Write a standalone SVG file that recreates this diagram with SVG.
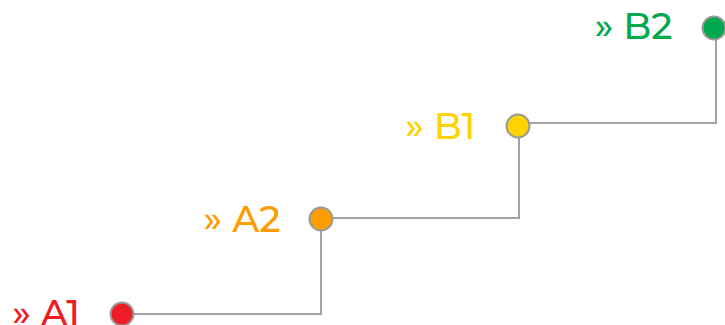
<svg xmlns="http://www.w3.org/2000/svg" width="725" height="325" viewBox="0 0 725 325">
<style>
.conn{fill:none;stroke:#a3a3a3;stroke-width:2}
.dot{stroke:#999;stroke-width:2}
.lbl{font-family:"Montserrat","Liberation Sans",Arial,sans-serif;font-size:37px;font-weight:500;text-anchor:end}
</style>
<rect width="725" height="325" fill="#fff"/>
<g id="connectors">
<polyline class="conn" points="122,314 321,314 321,219"/>
<polyline class="conn" points="321,218 519,218 519,126"/>
<polyline class="conn" points="518,123 716,123 716,28"/>
</g>
<g id="A1">
<circle class="dot" cx="122" cy="314" r="11.5" fill="#ee1c25"/>
<text class="lbl" x="80" y="325.5" fill="#ee1c25">» A1</text>
</g>
<g id="A2">
<circle class="dot" cx="321" cy="219" r="11.5" fill="#ff9c00"/>
<text class="lbl" x="280.5" y="232" fill="#ff9c00">» A2</text>
</g>
<g id="B1">
<circle class="dot" cx="518" cy="126" r="11.5" fill="#ffd200"/>
<text class="lbl" x="475.5" y="138.5" fill="#ffd200">» B1</text>
</g>
<g id="B2">
<circle class="dot" cx="714" cy="28" r="11.5" fill="#00a84f"/>
<text class="lbl" x="672.5" y="39" fill="#00a84f">» B2</text>
</g>
</svg>
